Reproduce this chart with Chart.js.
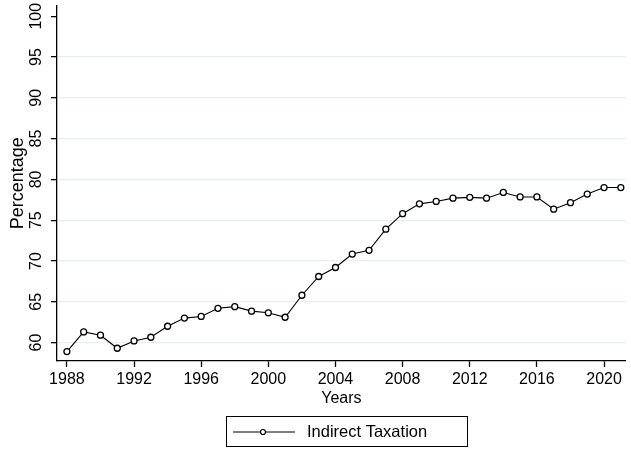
<!DOCTYPE html>
<html>
<head>
<meta charset="utf-8">
<script src="https://cdn.jsdelivr.net/npm/chart.js@4"></script>
<style>
  html, body { margin: 0; padding: 0; background: #fff; }
  canvas { display: block; }
</style>
</head>
<body>
<canvas id="chart" width="631" height="450"></canvas>
<script>
// Indirect taxation share by year
const years = [1988, 1989, 1990, 1991, 1992, 1993, 1994, 1995, 1996, 1997, 1998, 1999, 2000, 2001, 2002, 2003, 2004,
               2005, 2006, 2007, 2008, 2009, 2010, 2011, 2012, 2013, 2014, 2015, 2016, 2017, 2018, 2019, 2020, 2021];
const indirectTaxation = [58.9, 61.3, 60.9, 59.3, 60.2, 60.65, 62.0, 63.0, 63.2, 64.2, 64.4, 63.85, 63.65, 63.1, 65.8, 68.1, 69.2,
                          70.85, 71.3, 73.9, 75.8, 77.0, 77.3, 77.7, 77.8, 77.7, 78.4, 77.85, 77.85, 76.35, 77.15, 78.2, 79.0, 79.0];
const xTicks = [1988, 1992, 1996, 2000, 2004, 2008, 2012, 2016, 2020];
const yTicks = [60, 65, 70, 75, 80, 85, 90, 95, 100];

const FONT = 'Liberation Sans, Arial, sans-serif';

// legend drawn by hand: line with hollow circle, framed box
const legendBox = {
    id: 'legendBox',
    afterDraw(chart) {
        const ctx = chart.ctx;
        const ds = chart.data.datasets[0];
        ctx.save();
        ctx.strokeStyle = '#000';
        ctx.lineWidth = 1;
        ctx.strokeRect(226.5, 416.5, 241, 30);
        ctx.beginPath();
        ctx.moveTo(233, 432);
        ctx.lineTo(295, 432);
        ctx.stroke();
        ctx.beginPath();
        ctx.arc(263, 432, 2.5, 0, Math.PI * 2);
        ctx.fillStyle = '#fff';
        ctx.fill();
        ctx.lineWidth = 1.2;
        ctx.stroke();
        ctx.fillStyle = '#000';
        ctx.font = '16.5px ' + FONT;
        ctx.textBaseline = 'middle';
        ctx.fillText(ds.label, 307, 432);
        ctx.restore();
    }
};

new Chart(document.getElementById('chart'), {
    type: 'line',
    data: {
        datasets: [{
            label: 'Indirect Taxation',
            data: years.map((y, i) => ({ x: y, y: indirectTaxation[i] })),
            borderColor: '#000',
            borderWidth: 1.1,
            pointRadius: 3,
            pointBorderWidth: 1.3,
            pointBorderColor: '#000',
            pointBackgroundColor: '#fff',
            tension: 0,
        }]
    },
    options: {
        responsive: false,
        animation: false,
        devicePixelRatio: 1,
        layout: { padding: { top: 3, left: 0, right: 0, bottom: 42 } },
        plugins: {
            legend: { display: false },
            tooltip: { enabled: false },
        },
        scales: {
            x: {
                type: 'linear',
                min: 1987.41,
                max: 2021.29,
                afterBuildTicks: (scale) => { scale.ticks = xTicks.map(v => ({ value: v })); },
                afterFit: (scale) => {
                    scale.height = 47;
                    scale.paddingLeft = 0;
                    scale.paddingRight = 0;
                },
                border: { display: true, color: '#000', width: 1.3 },
                grid: { drawOnChartArea: false, tickLength: 6, tickColor: '#000', tickWidth: 1.3 },
                ticks: {
                    color: '#000',
                    font: { family: FONT, size: 16 },
                    padding: 3,
                    maxRotation: 0,
                    callback: (v) => String(v),
                },
                title: {
                    display: true,
                    text: 'Years',
                    color: '#000',
                    font: { family: FONT, size: 16 },
                    padding: { top: 0, bottom: 0 },
                },
            },
            y: {
                min: 57.74,
                max: 101.34,
                afterBuildTicks: (scale) => { scale.ticks = yTicks.map(v => ({ value: v })); },
                afterFit: (scale) => {
                    scale.width = 57;
                    scale.paddingTop = 0;
                    scale.paddingBottom = 0;
                },
                border: { display: true, color: '#000', width: 1.3 },
                grid: {
                    color: (c) => (c.tick && c.tick.value === 100 ? 'rgba(0,0,0,0)' : '#e6eff1'),
                    lineWidth: 1.3,
                    tickLength: 6,
                    tickColor: '#000',
                    tickWidth: 1.3,
                },
                ticks: {
                    color: '#000',
                    font: { family: FONT, size: 16 },
                    padding: 1.5,
                    minRotation: 90,
                    maxRotation: 90,
                    crossAlign: 'center',
                    callback: (v) => String(v),
                },
                title: {
                    display: true,
                    text: 'Percentage',
                    color: '#000',
                    font: { family: FONT, size: 18 },
                    padding: { top: 7, bottom: 0 },
                },
            },
        },
    },
    plugins: [legendBox],
});
</script>
</body>
</html>
